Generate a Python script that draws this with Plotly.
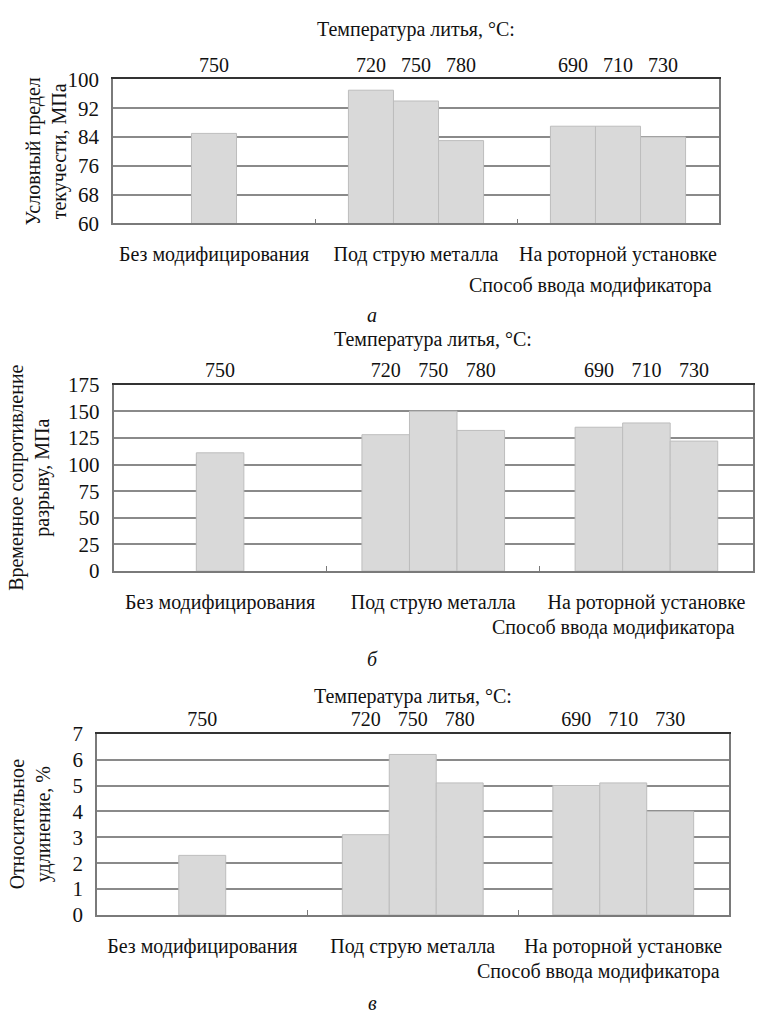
import plotly.graph_objects as go

W, H = 764, 1028

CATEGORIES = ["Без модифицирования", "Под струю металла", "На роторной установке"]
TEMP_SLOTS = [["", "750", ""], ["720", "750", "780"], ["690", "710", "730"]]

YIELD_STRENGTH = [[None, 85, None], [97, 94, 83], [87, 87, 84]]
TENSILE_STRENGTH = [[None, 111, None], [128, 150, 132], [135, 139, 122]]
ELONGATION = [[None, 2.3, None], [3.1, 6.2, 5.1], [5.0, 5.1, 4.0]]

Y_TITLES = ["Условный предел<br>текучести, МПа",
            "Временное сопротивление<br>разрыву, МПа",
            "Относительное<br>удлинение, %"]
TOP_TITLE = "Температура литья, °C:"
BOTTOM_TITLE = "Способ ввода модификатора"
PANEL_LETTERS = ["а", "б", "в"]

FONT = "Liberation Serif"
BAR_W = 0.223

# panel boxes in pixels: left, right, top, bottom; y range, dtick
PANELS = [
    dict(box=(113, 719, 69, 216.5), yr=(60, 100), dt=8, data=YIELD_STRENGTH,
         ttl_y=18, bot_y=280, bot_x=714, let_y=310, ytl_x=46),
    dict(box=(113.5, 753, 381.5, 572.5), yr=(0, 175), dt=25, data=TENSILE_STRENGTH,
         ttl_y=335, bot_y=630, bot_x=737, let_y=662, ytl_x=30),
    dict(box=(97, 728.5, 739, 924.5), yr=(0, 7), dt=1, data=ELONGATION,
         ttl_y=701, bot_y=982, bot_x=722, let_y=1015, ytl_x=30),
]

def px_x(x):
    return x / W

def px_y(y):
    return 1 - y / H

fig = go.Figure()
annotations = []
GRID = "#8a8a8a"
LINE = "#7a7a7a"
TXT = "#111111"

for p_i, p in enumerate(PANELS):
    l, r, t, b = p["box"]
    n = p_i + 1
    xa = "x" if n == 1 else f"x{n}"
    ya = "y" if n == 1 else f"y{n}"
    top_n = n + 3
    xs, ys, temps_x, temps_t = [], [], [], []
    for ci, vals in enumerate(p["data"]):
        for k, v in enumerate(vals):
            pos = ci + (k - 1) * BAR_W
            if v is not None:
                xs.append(pos)
                ys.append(v)
            if TEMP_SLOTS[ci][k] and v is not None:
                temps_x.append(pos)
                temps_t.append(TEMP_SLOTS[ci][k])
    fig.add_trace(go.Bar(x=xs, y=ys, width=BAR_W, xaxis=xa, yaxis=ya,
                         marker=dict(color="#d9d9d9", line=dict(color="#bdbdbd", width=1)),
                         showlegend=False, hoverinfo="skip"))
    # invisible companion trace so the top (temperature) axis is drawn
    fig.add_trace(go.Scatter(x=temps_x, y=[p["yr"][0]] * len(temps_x),
                             xaxis=f"x{top_n}", yaxis=ya, mode="markers",
                             marker=dict(opacity=0), showlegend=False, hoverinfo="skip"))
    dom_x = [px_x(l), px_x(r)]
    dom_y = [px_y(b), px_y(t)]
    xkey = "xaxis" if n == 1 else f"xaxis{n}"
    ykey = "yaxis" if n == 1 else f"yaxis{n}"
    fig.update_layout(**{
        xkey: dict(domain=dom_x, anchor=ya, range=[-0.5, 2.5], tickvals=[0, 1, 2],
                   ticktext=CATEGORIES, ticks="", showgrid=False, zeroline=False,
                   showline=True, linecolor=LINE, linewidth=1.5,
                   ticklabelstandoff=12,
                   tickfont=dict(family=FONT, size=20, color=TXT),
                   minor=dict(tickvals=[0.5, 1.5], ticks="inside", ticklen=5,
                              tickcolor=LINE, tickwidth=1, showgrid=False)),
        f"xaxis{top_n}": dict(domain=dom_x, anchor=ya, overlaying=xa, side="top",
                              range=[-0.5, 2.5], tickvals=temps_x, ticktext=temps_t,
                              ticks="", showgrid=False, zeroline=False,
                              showline=True, linecolor="#333", linewidth=1.5,
                              ticklabelstandoff=-2,
                              tickfont=dict(family=FONT, size=20, color=TXT)),
        ykey: dict(domain=dom_y, anchor=xa, range=list(p["yr"]), dtick=p["dt"],
                   tick0=p["yr"][0], ticks="", showgrid=True, gridcolor=GRID,
                   gridwidth=1.5, zeroline=False, showline=True, linecolor=LINE,
                   linewidth=1.5, mirror=True, ticklabelstandoff=8,
                   tickfont=dict(family=FONT, size=21, color=TXT)),
    })
    annotations.append(dict(text=TOP_TITLE, xref="paper", yref="paper",
                            x=px_x((l + r) / 2), y=px_y(p["ttl_y"]),
                            xanchor="center", yanchor="middle", showarrow=False,
                            font=dict(family=FONT, size=20, color=TXT)))
    annotations.append(dict(text=BOTTOM_TITLE, xref="paper", yref="paper",
                            x=px_x(p["bot_x"]), y=px_y(p["bot_y"]),
                            xanchor="right", yanchor="middle", showarrow=False,
                            font=dict(family=FONT, size=20, color=TXT)))
    annotations.append(dict(text=f"<i>{PANEL_LETTERS[p_i]}</i>", xref="paper", yref="paper",
                            x=px_x(372), y=px_y(p["let_y"]),
                            xanchor="center", yanchor="middle", showarrow=False,
                            font=dict(family=FONT, size=20, color=TXT)))
    annotations.append(dict(text=Y_TITLES[p_i], xref="paper", yref="paper",
                            x=px_x(p["ytl_x"]), y=px_y((t + b) / 2),
                            xanchor="center", yanchor="middle", showarrow=False,
                            textangle=-90,
                            font=dict(family=FONT, size=20, color=TXT)))

fig.update_layout(width=W, height=H, margin=dict(l=0, r=0, t=0, b=0),
                  paper_bgcolor="white", plot_bgcolor="white",
                  barmode="overlay", annotations=annotations)

fig.write_html("out.html", config={"displayModeBar": False},
               post_script="document.body.style.margin='0px';"
                           "document.body.style.overflow='hidden';")
